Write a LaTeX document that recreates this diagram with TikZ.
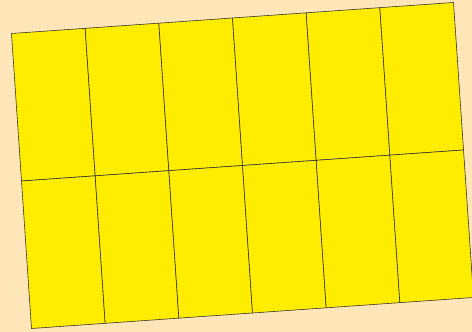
\documentclass[tikz,border=0pt]{standalone}
\usetikzlibrary{calc}
\definecolor{sandbg}{RGB}{255,230,185}
\definecolor{tileyellow}{RGB}{255,237,0}
\begin{document}
\begin{tikzpicture}[x=1pt,y=-1pt,
  tile/.style={draw=black!80, fill=tileyellow, line width=0.6pt, line join=round}]
  % background
  \fill[sandbg] (0,0) rectangle (472,332);
  \useasboundingbox (0,0) rectangle (472,332);
  % tilted grid of tiles, 6 columns by 2 rows
  \coordinate (corner) at (11.5,33.5);
  \foreach \i in {0,...,5} {
    \foreach \j in {0,1} {
      \draw[tile] ($(corner)+\i*(73.67,-5.17)+\j*(10,147.5)$) -- ++(73.67,-5.17) -- ++(10,147.5) -- ++(-73.67,5.17) -- cycle;
    }
  }
\end{tikzpicture}
\end{document}
